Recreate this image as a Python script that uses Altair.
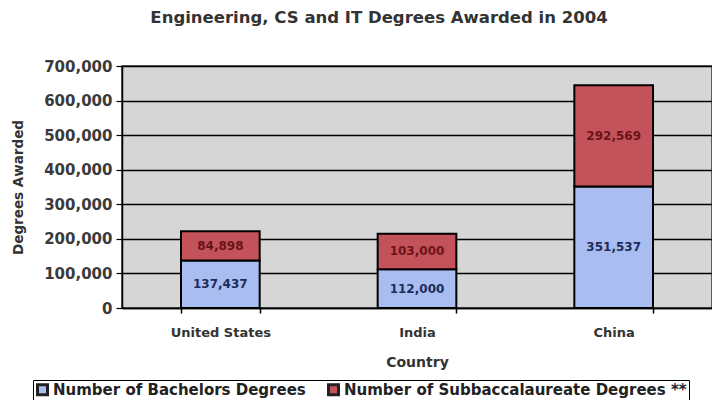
import altair as alt
import pandas as pd

countries = ["United States", "India", "China"]
series = ["Number of Bachelors Degrees", "Number of Subbaccalaureate Degrees **"]
bachelors = [137437, 112000, 351537]
subbacc = [84898, 103000, 292569]
y_ticks = [0, 100000, 200000, 300000, 400000, 500000, 600000, 700000]

rows = []
for c, b, s in zip(countries, bachelors, subbacc):
    rows.append({"country": c, "series": series[0], "value": b, "ord": 0})
    rows.append({"country": c, "series": series[1], "value": s, "ord": 1})
df = pd.DataFrame(rows)

colors = ["#aabdf0", "#c4525a"]
text_colors = ["#1c2c5c", "#6a1418"]
FONT = "DejaVu Sans"

base = alt.Chart(df).transform_stack(
    stack="value", groupby=["country"], as_=["y0", "y1"],
    sort=[alt.SortField("ord", order="ascending")]
).transform_calculate(mid="(datum.y0 + datum.y1) / 2")

x_scale = alt.Scale(paddingInner=0.6, paddingOuter=0.3)
y_scale = alt.Scale(domain=[0, 700000], nice=False)

x_axis = alt.Axis(title="Country", labelAngle=0, tickBand="extent",
                  labelFont=FONT, labelFontSize=13, labelFontWeight="bold",
                  labelColor="#333333", labelPadding=13,
                  titleFont=FONT, titleFontSize=14, titleFontWeight="bold",
                  titleColor="#333333", titlePadding=16,
                  domainColor="#000000", domainWidth=1.5,
                  tickColor="#000000", tickSize=5, tickWidth=1.5)
y_axis = alt.Axis(title="Degrees Awarded", values=y_ticks,
                  labelExpr="format(datum.value, ',')",
                  labelFont=FONT, labelFontSize=15, labelFontWeight="bold",
                  labelColor="#3a3a3a", labelPadding=4,
                  titleFont=FONT, titleFontSize=13.5, titleFontWeight="bold",
                  titleColor="#333333", titlePadding=18,
                  grid=True, gridColor="#000000", gridWidth=1.5,
                  domainColor="#000000", domainWidth=1.5,
                  tickColor="#000000", tickSize=6, tickWidth=1.2)

bars = base.mark_bar(stroke="#000000", strokeWidth=2).encode(
    x=alt.X("country:N", sort=countries, scale=x_scale, axis=x_axis),
    y=alt.Y("y0:Q", scale=y_scale, axis=y_axis),
    y2="y1:Q",
    color=alt.Color("series:N", sort=series,
                    scale=alt.Scale(domain=series, range=colors),
                    legend=alt.Legend(title=None, orient="none", direction="horizontal",
                                      legendX=-89, legendY=314,
                                      labelFont=FONT, labelFontSize=15, labelFontWeight="bold",
                                      labelColor="#222222", symbolType="square",
                                      symbolSize=100, symbolStrokeColor="#222222",
                                      symbolStrokeWidth=3, columnPadding=16,
                                      labelOffset=3,
                                      padding=2, strokeColor="#000000", fillColor="#ffffff",
                                      labelLimit=500)),
    order=alt.Order("ord:Q"),
)

labels = base.mark_text(font=FONT, fontSize=12, fontWeight="bold").encode(
    x=alt.X("country:N", sort=countries, scale=x_scale, axis=x_axis),
    y=alt.Y("mid:Q", scale=y_scale, axis=y_axis),
    text=alt.Text("value:Q", format=","),
    color=alt.Color("series:N", scale=alt.Scale(domain=series, range=text_colors), legend=None),
)

chart = alt.layer(bars, labels).resolve_scale(color="independent").properties(
    width=590, height=242,
    title=alt.Title("Engineering, CS and IT Degrees Awarded in 2004",
                    font=FONT, fontSize=16.5, fontWeight="bold", color="#333333",
                    anchor="middle", dx=-38, offset=33),
    autosize=alt.AutoSizeParams(type="none"),
    padding={"left": 114, "top": 58, "right": 0, "bottom": 92},
    background="#ffffff",
).configure_view(fill="#d6d6d6", stroke="#333333", strokeWidth=1.5)

chart.save("out.html", embed_options={"renderer": "svg", "actions": False})
